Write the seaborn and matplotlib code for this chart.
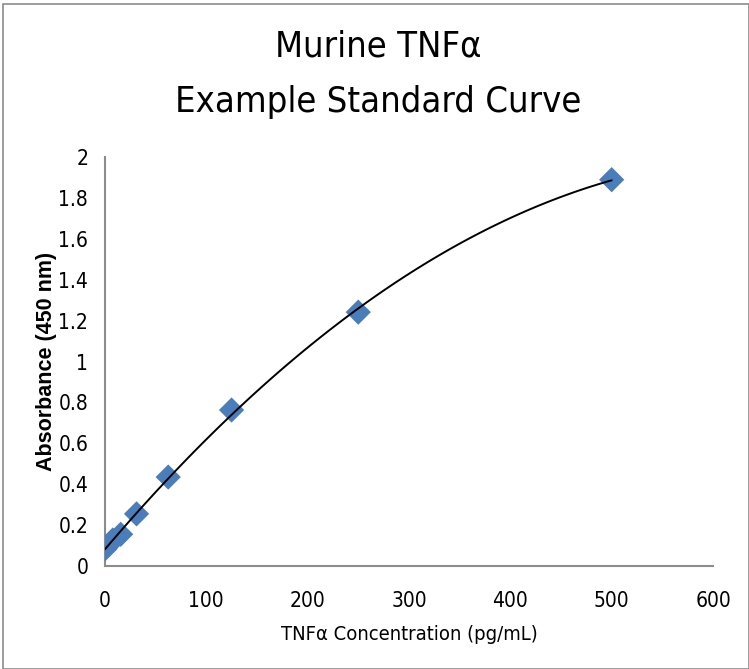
import numpy as np
import pandas as pd
import seaborn as sns
import matplotlib.pyplot as plt
from matplotlib.patches import Rectangle

# standard curve values
concentration = [0, 3.9, 7.8, 15.6, 31.25, 62.5, 125, 250, 500]
absorbance = [0.083, 0.105, 0.127, 0.155, 0.255, 0.435, 0.763, 1.242, 1.890]

x_ticks = [0, 100, 200, 300, 400, 500, 600]
y_ticks = [0, 0.2, 0.4, 0.6, 0.8, 1, 1.2, 1.4, 1.6, 1.8, 2]
y_tick_labels = ["0", "0.2", "0.4", "0.6", "0.8", "1", "1.2", "1.4", "1.6", "1.8", "2"]

df = pd.DataFrame({"conc": concentration, "abs": absorbance})

sns.set_style("white")
plt.rcParams["font.family"] = ["DejaVu Sans"]
plt.rcParams["font.stretch"] = "condensed"
plt.rcParams["text.color"] = "black"
plt.rcParams["axes.labelcolor"] = "black"

fig = plt.figure(figsize=(7.49, 6.69), dpi=100)
ax = fig.add_axes([0.140, 0.154, 0.812, 0.611])

# Excel-style 2nd order polynomial trendline through the standards
sns.regplot(data=df, x="conc", y="abs", order=2, ci=None, ax=ax,
            marker="D",
            scatter_kws={"s": 165, "color": "#4a7ebb", "edgecolor": "none", "alpha": 1, "zorder": 3},
            line_kws={"color": "black", "linewidth": 1.4, "zorder": 4})

ax.set_xlim(0, 600)
ax.set_ylim(0, 2)
ax.set_xticks(x_ticks)
ax.set_xticklabels([str(t) for t in x_ticks])
ax.set_yticks(y_ticks)
ax.set_yticklabels(y_tick_labels)
ax.tick_params(axis="both", length=0, labelsize=15, colors="black")
ax.tick_params(axis="x", pad=18)
ax.tick_params(axis="y", pad=12)

for side in ["top", "right"]:
    ax.spines[side].set_visible(False)
for side in ["left", "bottom"]:
    ax.spines[side].set_color("#8c8c8c")
    ax.spines[side].set_linewidth(1.5)

ax.set_xlabel("TNFα Concentration (pg/mL)", fontsize=14.5, labelpad=10)
ax.set_ylabel("Absorbance (450 nm)", fontsize=15.5, fontweight="bold",
              family=["Liberation Sans", "DejaVu Sans"], stretch="normal", labelpad=1)

fig.text(0.505, 0.930, "Murine TNFα", ha="center", va="center", fontsize=26)
fig.text(0.505, 0.848, "Example Standard Curve", ha="center", va="center", fontsize=26)

# grey outer frame like the chart area border
fig.patches.append(Rectangle((0.004, 0.0), 0.996, 0.994, transform=fig.transFigure,
                             fill=False, edgecolor="#8c8c8c", linewidth=1.2))

fig.savefig("out.png", dpi=100)
